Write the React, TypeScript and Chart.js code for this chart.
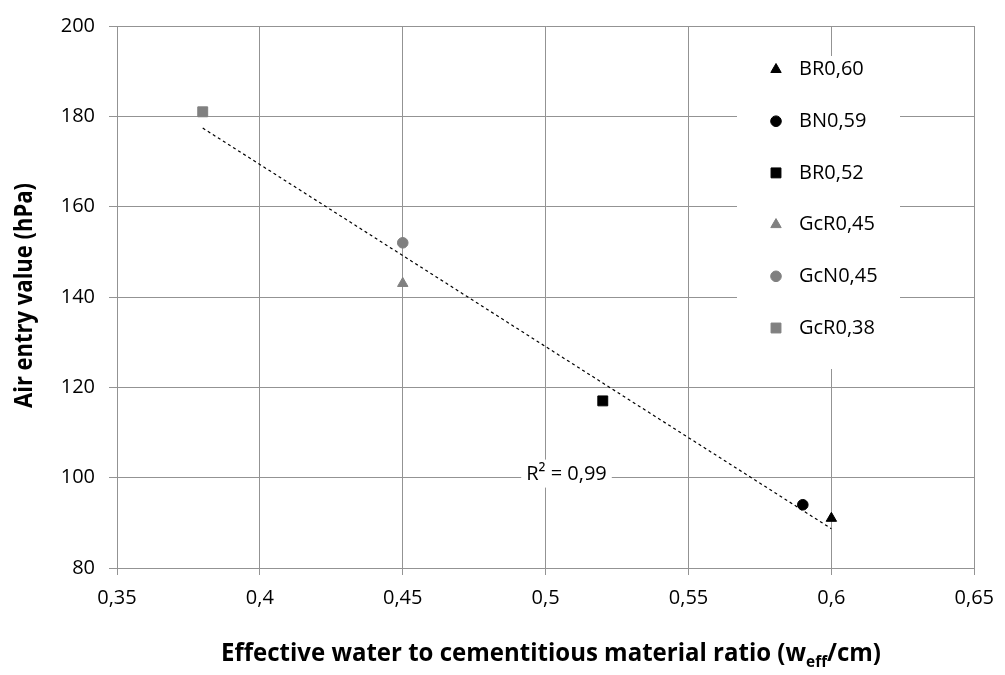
import React, { useEffect, useRef } from "react";
import { Chart, registerables } from "chart.js";
import { drawPoint } from "chart.js/helpers";

Chart.register(...registerables);

// ---- Data ----
const seriesLabels = ["BR0,60", "BN0,59", "BR0,52", "GcR0,45", "GcN0,45", "GcR0,38"];
const seriesX = [0.6, 0.59, 0.52, 0.45, 0.45, 0.38];
const seriesY = [91, 94, 117, 143, 152, 181];
const seriesShapes = ["triangle", "circle", "rect", "triangle", "circle", "rect"];
const seriesColors = ["#000000", "#000000", "#000000", "#808080", "#808080", "#808080"];
const seriesRadius = [6, 5.3, 7, 6, 5.3, 7];

const trendX = [0.38, 0.6];
const trendY = [177.4, 88.7];
const r2Text = "R² = 0,99";
const r2AtX = 0.5073;
const r2AtY = 100.9;

const xTitleMain = "Effective water to cementitious material ratio (w";
const xTitleSub = "eff";
const xTitleEnd = "/cm)";
const yTitle = "Air entry value (hPa)";

const xMin = 0.35, xMax = 0.65, xStep = 0.05;
const yMin = 80, yMax = 200, yStep = 20;

const FONT = "'Open Sans', 'Liberation Sans', sans-serif";
const GRID = "#939393";

const fmt = (v: number) => String(Math.round(v * 100) / 100).replace(".", ",");

const overlayPlugin = {
  id: "overlay",
  afterDraw(chart: any) {
    const ctx = chart.ctx as CanvasRenderingContext2D;
    const xs = chart.scales.x;
    const ys = chart.scales.y;

    // Legend box
    ctx.save();
    ctx.fillStyle = "#ffffff";
    ctx.fillRect(737, 56, 163, 313);
    const rowTop = 68.5;
    const rowGap = 51.7;
    ctx.font = `20px ${FONT}`;
    ctx.textBaseline = "middle";
    ctx.textAlign = "left";
    seriesLabels.forEach((lab, i) => {
      const cy = rowTop + i * rowGap;
      ctx.fillStyle = seriesColors[i];
      ctx.strokeStyle = seriesColors[i];
      ctx.lineWidth = 1;
      drawPoint(ctx, { pointStyle: seriesShapes[i] as any, radius: seriesRadius[i], borderWidth: 1, rotation: 0 } as any, 776, cy + 1);
      ctx.fillStyle = "#000000";
      ctx.fillText(lab, 799, cy + 1);
    });
    ctx.restore();

    // R² label
    ctx.save();
    const px = xs.getPixelForValue(r2AtX);
    const py = ys.getPixelForValue(r2AtY);
    ctx.font = `20px ${FONT}`;
    const w = ctx.measureText(r2Text).width;
    ctx.fillStyle = "#ffffff";
    ctx.fillRect(px - w / 2 - 5, py - 14, w + 10, 28);
    ctx.fillStyle = "#000000";
    ctx.textAlign = "center";
    ctx.textBaseline = "middle";
    ctx.fillText(r2Text, px, py + 1);
    ctx.restore();

    // X title with subscript, fit to width
    ctx.save();
    const mainFont = `bold 25px ${FONT}`;
    const subFont = `bold 16px ${FONT}`;
    ctx.font = mainFont;
    const w1 = ctx.measureText(xTitleMain).width;
    const w3 = ctx.measureText(xTitleEnd).width;
    ctx.font = subFont;
    const w2 = ctx.measureText(xTitleSub).width;
    const total = w1 + w2 + w3;
    const targetW = 660;
    const sx = targetW / total;
    const left = 221;
    const base = 661;
    ctx.translate(left, base);
    ctx.scale(sx, 1);
    ctx.fillStyle = "#000000";
    ctx.textBaseline = "alphabetic";
    ctx.textAlign = "left";
    ctx.font = mainFont;
    ctx.fillText(xTitleMain, 0, 0);
    ctx.font = subFont;
    ctx.fillText(xTitleSub, w1, 6);
    ctx.font = mainFont;
    ctx.fillText(xTitleEnd, w1 + w2, 0);
    ctx.restore();

    // Y title rotated
    ctx.save();
    ctx.font = mainFont;
    const wy = ctx.measureText(yTitle).width;
    const sy = 225 / wy;
    ctx.translate(32, 295.5);
    ctx.rotate(-Math.PI / 2);
    ctx.scale(sy, 1);
    ctx.fillStyle = "#000000";
    ctx.textAlign = "center";
    ctx.textBaseline = "alphabetic";
    ctx.fillText(yTitle, 0, 0);
    ctx.restore();
  },
};

export default function App() {
  const ref = useRef<HTMLCanvasElement | null>(null);

  useEffect(() => {
    document.body.style.margin = "0";
    const canvas = ref.current;
    if (!canvas) return;

    const datasets: any[] = seriesLabels.map((lab, i) => ({
      type: "scatter",
      label: lab,
      data: [{ x: seriesX[i], y: seriesY[i] }],
      pointStyle: seriesShapes[i],
      pointRadius: seriesRadius[i],
      backgroundColor: seriesColors[i],
      borderColor: seriesColors[i],
      borderWidth: 1,
      order: 0,
    }));
    datasets.push({
      type: "line",
      label: "trend",
      data: trendX.map((x, i) => ({ x, y: trendY[i] })),
      borderColor: "#000000",
      borderWidth: 1.2,
      borderDash: [3, 3],
      pointRadius: 0,
      fill: false,
      order: 1,
    });

    const chart = new Chart(canvas, {
      type: "scatter",
      data: { datasets },
      options: {
        animation: false,
        responsive: false,
        maintainAspectRatio: false,
        layout: { padding: { top: 18, right: 30, left: 0, bottom: 0 } },
        plugins: {
          legend: { display: false },
          tooltip: { enabled: false },
          title: { display: false },
        },
        scales: {
          x: {
            type: "linear",
            min: xMin,
            max: xMax,
            afterFit: (s: any) => {
              s.height = 107;
            },
            ticks: {
              stepSize: xStep,
              callback: (v: any) => fmt(Number(v)),
              color: "#000000",
              font: { family: FONT, size: 20 },
              padding: 11,
              maxRotation: 0,
            },
            grid: { color: GRID, lineWidth: 1, tickLength: 7, drawTicks: true },
            border: { color: GRID, width: 1 },
          },
          y: {
            type: "linear",
            min: yMin,
            max: yMax,
            afterFit: (s: any) => {
              s.width = 117;
            },
            ticks: {
              stepSize: yStep,
              callback: (v: any) => String(v),
              color: "#000000",
              font: { family: FONT, size: 20 },
              padding: 14,
            },
            grid: { color: GRID, lineWidth: 1, tickLength: 8, drawTicks: true },
            border: { color: GRID, width: 1 },
          },
        },
      },
      plugins: [overlayPlugin],
    } as any);

    return () => chart.destroy();
  }, []);

  return (
    <div style={{ width: 1005, height: 675, position: "relative", background: "#ffffff" }}>
      <canvas ref={ref} width={1005} height={675} style={{ display: "block" }} />
    </div>
  );
}
